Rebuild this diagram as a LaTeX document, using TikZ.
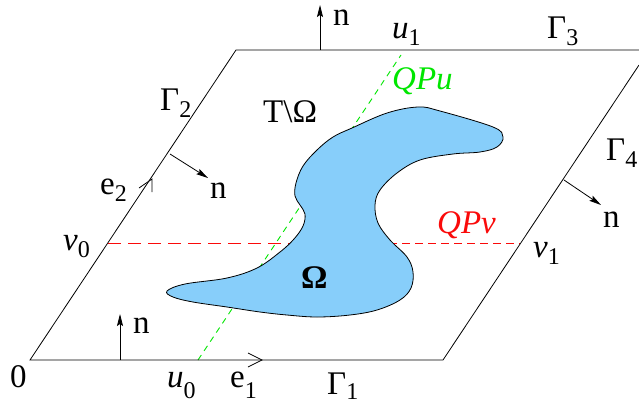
\documentclass[tikz,border=0pt]{standalone}
\usepackage{fontspec}
\setmainfont{Liberation Serif}
\usetikzlibrary{arrows.meta}
\definecolor{blobblue}{RGB}{135,206,250}
\definecolor{qgreen}{RGB}{0,230,0}
\definecolor{qpvred}{RGB}{250,10,10}
\newcommand{\lo}[2][7pt]{\raisebox{-#1}{\fontsize{24}{24}\selectfont #2}}
\tikzset{
  lbl/.style={inner sep=0pt, anchor=base west, font=\fontsize{33}{36}\selectfont},
  edge/.style={line width=0.8pt, black},
  normal/.style={line width=0.8pt, -{Stealth[length=12pt,width=6pt,inset=2pt]}},
  tickmark/.style={line width=0.8pt},
  gdash/.style={color=qgreen, line width=0.9pt, dash pattern=on 6pt off 5pt},
  longdash/.style={line width=1pt, dash pattern=on 13pt off 7pt},
  shortdash/.style={line width=1pt, dash pattern=on 8pt off 5pt},
  blob/.style={fill=blobblue, draw=black, line width=0.8pt}
}
\begin{document}
\begin{tikzpicture}[x=1pt,y=-1pt]
\useasboundingbox (0,0) rectangle (639,405);
% corners
\coordinate (O) at (30,360);
\coordinate (B) at (443,360);
\coordinate (R) at (639,65);
\coordinate (TR) at (639,50);
\coordinate (TL) at (236,50);
% QP lines
\coordinate (u0) at (198,360);
\coordinate (u1) at (401,55);
\coordinate (v0) at (108,243);
\coordinate (vm) at (350,243);
\coordinate (v1) at (520,243);
\begin{scope}[color=qpvred]
\draw[longdash] (v0) -- (vm);
\draw[shortdash] (vm) -- (v1);
\end{scope}
\draw[gdash] (u0) -- (u1);
% domain
\draw[blob] plot[smooth cycle, tension=0.6] coordinates {
 (167,291) (185,284) (227,278) (257,268) (280,252) (294,239) (303,226)
 (305,214) (300,205) (295,196) (296,183) (303,166) (317,150) (333,137)
 (352,128) (387,113) (418,107) (440,111) (493,127) (503,137) (497,147)
 (480,152) (453,154) (420,160) (397,173) (380,190) (375,205) (378,223)
 (390,240) (407,257) (413,272) (411,288) (400,300) (377,310) (350,315)
 (317,317) (287,315) (260,312) (227,307) (193,302) (173,297)};
% parallelogram
\draw[edge] (R) -- (B) -- (O) -- (TL) -- (TR);
% e1, e2 marks
\coordinate (e1a) at (248,353); \coordinate (e1t) at (262,360); \coordinate (e1b) at (248,367);
\draw[tickmark] (e1a) -- (e1t) -- (e1b);
\coordinate (e2a) at (139,188); \coordinate (e2t) at (152,179); \coordinate (e2b) at (152,192);
\draw[tickmark] (e2a) -- (e2t) -- (e2b);
% normals
\coordinate (nt0) at (320,50); \coordinate (nt1) at (320,5);
\coordinate (nb0) at (120,360); \coordinate (nb1) at (120,314);
\coordinate (nl0) at (170,154); \coordinate (nl1) at (208,178);
\coordinate (nr0) at (564,180); \coordinate (nr1) at (601,205);
\draw[normal] (nt0) -- (nt1);
\draw[normal] (nb0) -- (nb1);
\draw[normal] (nl0) -- (nl1);
\draw[normal] (nr0) -- (nr1);
% labels
\node[lbl] (ln1) at (333,25) {n};
\node[lbl] (lu1) at (392,38) {\textit{u}\lo{1}};
\node[lbl] (lG3) at (547,38) {Γ\lo{3}};
\node[lbl] (lG2) at (160,110) {Γ\lo{2}};
\node[lbl] (lT) at (263,122) {T\textbackslash Ω};
\node[lbl, text=qgreen] (lQPu) at (392,89) {\textit{QPu}};
\node[lbl] (lG4) at (606,160) {Γ\lo{4}};
\node[lbl] (le2) at (100,194) {e\lo{2}};
\node[lbl] (ln2) at (210,198) {n};
\node[lbl] (ln3) at (603,227) {n};
\node[lbl] (lv0) at (63,250) {\textit{v}\lo{0}};
\node[lbl] (lv1) at (533,257) {\textit{v}\lo{1}};
\node[lbl, text=qpvred] (lQPv) at (437,233) {\textit{QPv}};
\node[lbl, font=\fontsize{33}{36}\selectfont\bfseries] (lOm) at (301,288) {Ω};
\node[lbl] (ln4) at (133,333) {n};
\node[lbl] (l0) at (10,387) {0};
\node[lbl] (lu0) at (167,387) {\textit{u}\lo[11pt]{0}};
\node[lbl] (le1) at (230,387) {e\lo[11pt]{1}};
\node[lbl] (lG1) at (327,394) {Γ\lo[5pt]{1}};
\end{tikzpicture}
\end{document}
